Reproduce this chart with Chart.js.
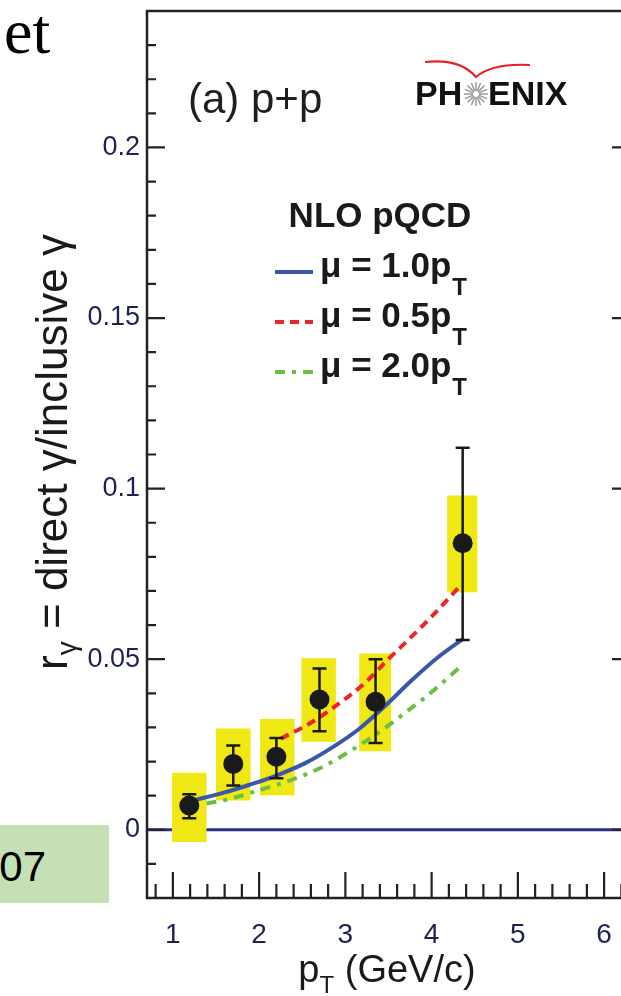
<!DOCTYPE html>
<html><head><meta charset="utf-8">
<script src="https://cdn.jsdelivr.net/npm/chart.js@4.4.1/dist/chart.umd.min.js"></script>
<style>
html,body{margin:0;padding:0;background:#fff;overflow:hidden;width:621px;height:996px;}
#wrap{position:absolute;left:0;top:0;width:621px;height:996px;overflow:hidden;}
#c{position:absolute;left:0;top:0;}
#et{position:absolute;left:4px;top:0px;font-family:"Liberation Serif",serif;font-size:64px;line-height:1;color:#000;}
#yr{position:absolute;left:0;top:825px;width:109px;height:78px;background:#c5e0b4;overflow:hidden;}
#yr span{position:absolute;right:63px;top:21px;font-family:"Liberation Sans",Arial,sans-serif;font-size:42px;line-height:1;color:#000;white-space:nowrap;}
</style></head>
<body>
<div id="wrap">
<canvas id="c" width="640" height="996" style="width:640px;height:996px"></canvas>
<div id="et">et</div>
<div id="yr"><span>2007</span></div>
</div>
<script>
// ---- data ----
const PT = [1.19, 1.70, 2.20, 2.70, 3.35, 4.36];
const R_GAMMA = [0.0071, 0.0193, 0.0214, 0.0382, 0.0375, 0.084];
const STAT_LO = [0.0034, 0.0130, 0.0151, 0.0289, 0.0254, 0.0556];
const STAT_HI = [0.0104, 0.0247, 0.0269, 0.0473, 0.0500, 0.112];
const SYS_X_LO = [0.99, 1.50, 2.01, 2.49, 3.16, 4.18];
const SYS_X_HI = [1.39, 1.90, 2.41, 2.89, 3.53, 4.53];
const SYS_LO = [-0.0036, 0.0086, 0.0101, 0.0258, 0.0230, 0.0696];
const SYS_HI = [0.0167, 0.0297, 0.0325, 0.0503, 0.0517, 0.098];

const MU10_PT = [1.27, 1.58, 1.89, 2.20, 2.54, 2.84, 3.15, 3.46, 3.76, 4.07, 4.36];
const MU10_R  = [0.0088, 0.0108, 0.0132, 0.0159, 0.0196, 0.0240, 0.0294, 0.0363, 0.0436, 0.0505, 0.0559];
const MU05_PT = [2.25, 2.59, 2.92, 3.23, 3.49, 3.78, 4.05, 4.32];
const MU05_R  = [0.0267, 0.0312, 0.0369, 0.0431, 0.0498, 0.0569, 0.0638, 0.0712];
const MU20_PT = [1.39, 1.62, 2.00, 2.36, 2.71, 3.07, 3.38, 3.72, 4.03, 4.32];
const MU20_R  = [0.0077, 0.0088, 0.0116, 0.0145, 0.0181, 0.0233, 0.0284, 0.0348, 0.0410, 0.0475];

const X_TICKS = [1, 2, 3, 4, 5, 6];
const X_TICK_LABELS = ['1', '2', '3', '4', '5', '6'];
const Y_TICKS = [0, 0.05, 0.1, 0.15, 0.2];
const Y_TICK_LABELS = ['0', '0.05', '0.1', '0.15', '0.2'];
const LEGEND_TITLE = 'NLO pQCD';
const LEGEND_LABELS = ['μ = 1.0p', 'μ = 0.5p', 'μ = 2.0p'];

const pts = (xs, ys) => xs.map((x, i) => ({x: x, y: ys[i]}));

const SANS = '"Liberation Sans", Arial, Helvetica, sans-serif';
const TICK_COLOR = '#1d2252';
const BLUE = '#3b58a8', RED = '#ee2528', GREEN = '#6cbf45';

const decor = {
  id: 'decor',
  beforeDatasetsDraw(chart) {
    const {ctx, chartArea: a, scales: {x, y}} = chart;
    ctx.save();
    ctx.beginPath(); ctx.rect(a.left, a.top, a.right - a.left, a.bottom - a.top); ctx.clip();
    ctx.strokeStyle = '#2b2f86'; ctx.lineWidth = 3;
    ctx.beginPath(); ctx.moveTo(a.left, y.getPixelForValue(0)); ctx.lineTo(a.right, y.getPixelForValue(0)); ctx.stroke();
    ctx.fillStyle = '#f0e814';
    for (let i = 0; i < PT.length; i++) {
      const x0 = x.getPixelForValue(SYS_X_LO[i]), x1 = x.getPixelForValue(SYS_X_HI[i]);
      const y0 = y.getPixelForValue(SYS_HI[i]), y1 = y.getPixelForValue(SYS_LO[i]);
      ctx.fillRect(x0, y0, x1 - x0, y1 - y0);
    }
    ctx.restore();
  },
  beforeDatasetDraw(chart, args) {
    if (args.index !== 0) return;
    const {ctx, scales: {x, y}} = chart;
    ctx.save();
    ctx.strokeStyle = '#1a1a1a'; ctx.lineWidth = 2.5;
    for (let i = 0; i < PT.length; i++) {
      const px = x.getPixelForValue(PT[i]);
      const ylo = y.getPixelForValue(STAT_LO[i]), yhi = y.getPixelForValue(STAT_HI[i]);
      ctx.beginPath();
      ctx.moveTo(px, ylo); ctx.lineTo(px, yhi);
      ctx.moveTo(px - 7, ylo); ctx.lineTo(px + 7, ylo);
      ctx.moveTo(px - 7, yhi); ctx.lineTo(px + 7, yhi);
      ctx.stroke();
    }
    ctx.restore();
  },
  afterDraw(chart) {
    const {ctx, chartArea: a, scales: {x, y}} = chart;
    ctx.save();
    ctx.strokeStyle = '#222'; ctx.lineWidth = 2.5;
    ctx.beginPath();
    ctx.moveTo(a.left, a.top); ctx.lineTo(a.right, a.top); ctx.lineTo(a.right, a.bottom);
    ctx.lineTo(a.left, a.bottom); ctx.closePath(); ctx.stroke();
    ctx.lineWidth = 2.2;
    for (let k = -1; k <= 23; k++) {
      const v = k / 100;
      const major = (k % 5 === 0);
      const len = major ? 18 : 9;
      const py = y.getPixelForValue(v);
      ctx.beginPath();
      ctx.moveTo(a.left, py); ctx.lineTo(a.left + len, py);
      ctx.moveTo(a.right, py); ctx.lineTo(a.right - len, py);
      ctx.stroke();
    }
    for (let k = 4; k <= 31; k++) {
      const v = k / 5;
      const major = (k % 5 === 0);
      const len = major ? 26 : 14;
      const px = x.getPixelForValue(v);
      ctx.beginPath(); ctx.moveTo(px, a.bottom); ctx.lineTo(px, a.bottom - len); ctx.stroke();
    }
    // y-axis title
    ctx.fillStyle = '#1a1a1a';
    ctx.translate(67, 452); ctx.rotate(-Math.PI / 2);
    const big = '44px ' + SANS, sub = '28px ' + SANS;
    ctx.font = big; const wr = ctx.measureText('r').width;
    const rest = ' = direct γ/inclusive γ';
    const wrest = ctx.measureText(rest).width;
    ctx.font = sub; const wg = ctx.measureText('γ').width;
    let sx = -(wr + wg + wrest) / 2;
    ctx.textBaseline = 'alphabetic'; ctx.textAlign = 'left';
    ctx.font = big; ctx.fillText('r', sx, 0); sx += wr;
    ctx.font = sub; ctx.fillText('γ', sx, 9); sx += wg;
    ctx.font = big; ctx.fillText(rest, sx, 0);
    ctx.setTransform(1, 0, 0, 1, 0, 0);
    // x-axis title
    const xb = '38px ' + SANS, xs = '24px ' + SANS;
    ctx.font = xb; const wp = ctx.measureText('p').width; const xr = ' (GeV/c)'; const wxr = ctx.measureText(xr).width;
    ctx.font = xs; const wt = ctx.measureText('T').width;
    let tx = 387 - (wp + wt + wxr) / 2;
    ctx.font = xb; ctx.fillText('p', tx, 982); tx += wp;
    ctx.font = xs; ctx.fillText('T', tx, 993); tx += wt;
    ctx.font = xb; ctx.fillText(xr, tx, 982);
    // panel label
    ctx.font = '42px ' + SANS; ctx.fillStyle = '#1e1e1e';
    ctx.fillText('(a) p+p', 188, 113);
    // PHENIX logo
    ctx.font = 'bold 34px ' + SANS; ctx.fillStyle = '#111';
    ctx.fillText('PH', 415, 105);
    ctx.fillText('ENIX', 488, 105);
    ctx.strokeStyle = '#9a9a9a'; ctx.lineWidth = 1.5;
    for (let r = 0; r < 16; r++) {
      const th = r * Math.PI / 8;
      ctx.beginPath();
      ctx.moveTo(476 + 3 * Math.cos(th), 94 + 3 * Math.sin(th));
      ctx.lineTo(476 + 12 * Math.cos(th), 94 + 12 * Math.sin(th));
      ctx.stroke();
    }
    ctx.strokeStyle = '#e8202a'; ctx.lineWidth = 2.2;
    ctx.beginPath();
    ctx.moveTo(425, 62); ctx.quadraticCurveTo(460, 58, 476, 77);
    ctx.quadraticCurveTo(492, 63, 530, 65);
    ctx.stroke();
    // legend
    ctx.fillStyle = '#1a1a1a';
    ctx.font = 'bold 35px ' + SANS; ctx.textAlign = 'center';
    ctx.fillText(LEGEND_TITLE, 380, 227);
    ctx.textAlign = 'left';
    const cols = [BLUE, RED, GREEN];
    const dashes = [[], [9, 6], [10, 7, 4, 7]];
    for (let i = 0; i < 3; i++) {
      const ly = 272 + 50 * i;
      ctx.strokeStyle = cols[i]; ctx.lineWidth = 4; ctx.setLineDash(dashes[i]);
      ctx.beginPath(); ctx.moveTo(275, ly); ctx.lineTo(313, ly); ctx.stroke();
      ctx.setLineDash([]);
      ctx.font = 'bold 35px ' + SANS;
      ctx.fillText(LEGEND_LABELS[i], 320, ly + 5);
      const w = ctx.measureText(LEGEND_LABELS[i]).width;
      ctx.font = 'bold 24px ' + SANS;
      ctx.fillText('T', 320 + w + 1, ly + 23);
    }
    ctx.restore();
  }
};

new Chart(document.getElementById('c'), {
  type: 'scatter',
  data: {
    datasets: [
      {label: 'PHENIX p+p', data: pts(PT, R_GAMMA), pointRadius: 10, pointHoverRadius: 10,
       backgroundColor: '#1a1a1a', borderWidth: 0},
      {label: 'μ = 1.0pT', data: pts(MU10_PT, MU10_R), showLine: true, borderColor: BLUE, borderWidth: 4,
       pointRadius: 0, cubicInterpolationMode: 'monotone'},
      {label: 'μ = 0.5pT', data: pts(MU05_PT, MU05_R), showLine: true, borderColor: RED, borderWidth: 4,
       borderDash: [9, 6], pointRadius: 0, cubicInterpolationMode: 'monotone'},
      {label: 'μ = 2.0pT', data: pts(MU20_PT, MU20_R), showLine: true, borderColor: GREEN, borderWidth: 4,
       borderDash: [10, 7, 4, 7], pointRadius: 0, cubicInterpolationMode: 'monotone'}
    ]
  },
  options: {
    responsive: false, animation: false, devicePixelRatio: 1,
    layout: {padding: {top: 11, right: 7, left: 0, bottom: 0}},
    plugins: {legend: {display: false}, tooltip: {enabled: false}},
    scales: {
      x: {type: 'linear', min: 0.7, max: 6.3,
          grid: {display: false, drawTicks: false}, border: {display: false},
          afterBuildTicks: s => { s.ticks = X_TICKS.map(v => ({value: v})); },
          afterFit: s => { s.height = 98; s.paddingLeft = 0; s.paddingRight = 0; },
          ticks: {padding: 20, color: TICK_COLOR, font: {family: SANS, size: 28},
                  callback: (v) => X_TICK_LABELS[X_TICKS.indexOf(v)] ?? ''}},
      y: {type: 'linear', min: -0.02, max: 0.24,
          grid: {display: false, drawTicks: false}, border: {display: false},
          afterBuildTicks: s => { s.ticks = Y_TICKS.map(v => ({value: v})); },
          afterFit: s => { s.width = 147; s.paddingTop = 0; s.paddingBottom = 0; },
          ticks: {padding: 7, color: TICK_COLOR, font: {family: SANS, size: 27},
                  callback: (v) => { const i = Y_TICKS.findIndex(t => Math.abs(t - v) < 1e-9); return i >= 0 ? Y_TICK_LABELS[i] : ''; }}}
    }
  },
  plugins: [decor]
});
</script>
</body></html>
